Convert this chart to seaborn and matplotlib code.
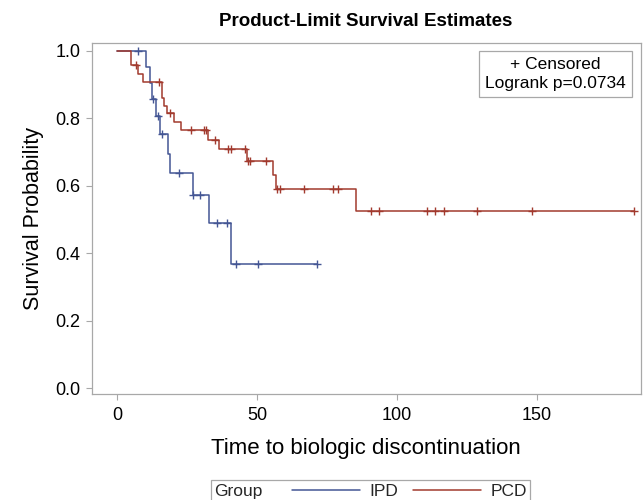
import numpy as np
import pandas as pd
import matplotlib
matplotlib.use("Agg")
import matplotlib.pyplot as plt
import seaborn as sns
from matplotlib.lines import Line2D
from matplotlib.offsetbox import DrawingArea

# ---------------- data ----------------
groups = ["IPD", "PCD"]

ipd_time = [0.0, 10.3, 11.5, 12.4, 13.9, 15.3, 18.2, 18.9, 26.9, 32.8, 40.7, 71.3]
ipd_surv = [1.0, 0.952, 0.905, 0.857, 0.807, 0.753, 0.695, 0.637, 0.573, 0.491, 0.368, 0.368]
ipd_cens_time = [7.3, 12.6, 14.4, 16.1, 22.1, 27.1, 29.6, 35.5, 39.1, 42.4, 50.2, 71.3]
ipd_cens_surv = [1.0, 0.857, 0.807, 0.753, 0.637, 0.573, 0.573, 0.491, 0.491, 0.368, 0.368, 0.368]

pcd_time = [0.0, 4.8, 7.5, 9.0, 16.0, 16.8, 17.9, 20.1, 22.9, 32.3, 36.5, 46.3, 55.7, 56.7, 85.3, 184.8]
pcd_surv = [1.0, 0.959, 0.932, 0.908, 0.860, 0.836, 0.815, 0.788, 0.765, 0.736, 0.708, 0.673, 0.632, 0.591, 0.525, 0.525]
pcd_cens_time = [6.6, 14.7, 18.7, 26.5, 31.0, 31.6, 35.0, 39.7, 40.5, 45.7, 46.6, 47.3, 53.3,
                 57.2, 58.0, 66.6, 77.2, 78.8, 90.6, 93.4, 110.6, 113.5, 116.9, 128.5, 148.2, 184.8]
pcd_cens_surv = [0.959, 0.908, 0.815, 0.765, 0.765, 0.765, 0.736, 0.708, 0.708, 0.708, 0.673, 0.673, 0.673,
                 0.591, 0.591, 0.591, 0.591, 0.591, 0.525, 0.525, 0.525, 0.525, 0.525, 0.525, 0.525, 0.525]

x_ticks = [0, 50, 100, 150]
y_ticks = [0.0, 0.2, 0.4, 0.6, 0.8, 1.0]
title = "Product-Limit Survival Estimates"
x_label = "Time to biologic discontinuation"
y_label = "Survival Probability"
inset_lines = ["+ Censored", "Logrank p=0.0734"]
legend_title = "Group"

# ---------------- style ----------------
sns.set_theme(style="white")
plt.rcParams['font.family'] = ['Liberation Sans', 'DejaVu Sans']
plt.rcParams['axes.linewidth'] = 0.9

blue = "#445694"
red = "#A23A2E"
grey = "#A8A8A8"

W, H = 644, 500
fig = plt.figure(figsize=(W / 100, H / 100), dpi=100)
L, R, T, B = 91.7, 641.0, 43.3, 394.0
ax = fig.add_axes([L / W, 1 - B / H, (R - L) / W, (B - T) / H])

ipd_df = pd.DataFrame({"time": ipd_time, "surv": ipd_surv})
pcd_df = pd.DataFrame({"time": pcd_time, "surv": pcd_surv})

sns.lineplot(data=ipd_df, x="time", y="surv", drawstyle="steps-post", estimator=None,
             sort=False, color=blue, lw=1.1, ax=ax)
sns.lineplot(data=pcd_df, x="time", y="surv", drawstyle="steps-post", estimator=None,
             sort=False, color=red, lw=1.1, ax=ax)
sns.scatterplot(x=ipd_cens_time, y=ipd_cens_surv, marker="+", s=32, color=blue,
                linewidth=1.0, ax=ax, zorder=3)
sns.scatterplot(x=pcd_cens_time, y=pcd_cens_surv, marker="+", s=32, color=red,
                linewidth=1.0, ax=ax, zorder=3)

ax.set_xlim(-9.2, 187.3)
ax.set_ylim(-0.017, 1.022)
ax.set_xticks(x_ticks)
ax.set_xticklabels([str(v) for v in x_ticks])
ax.set_yticks(y_ticks)
ax.set_yticklabels([f"{v:.1f}" for v in y_ticks])
for s in ax.spines.values():
    s.set_color(grey)
    s.set_linewidth(0.9)
ax.tick_params(axis="both", which="major", direction="out", length=4.3, width=0.8,
               color=grey, labelcolor="black", labelsize=13, pad=3.6, left=True, bottom=True)
ax.tick_params(axis="x", pad=5.0)

ax.set_xlabel(x_label, fontsize=16, color="black")
ax.set_ylabel(y_label, fontsize=15.5, color="black")
ax.xaxis.set_label_coords(0.5, -0.125)
ax.yaxis.set_label_coords(-0.087, 0.5)

fig.text(366 / W, 1 - 22 / H, title, ha="center", va="center", fontsize=13.5,
         fontweight="bold", color="black")

# inset box
ax.text((555.5 - L) / (R - L), (B - 74.2) / (B - T), "\n".join(inset_lines),
        transform=ax.transAxes, ha="center", va="center", fontsize=12.5,
        linespacing=1.3, color="black",
        bbox=dict(boxstyle="square,pad=0.35", facecolor="white", edgecolor=grey, linewidth=0.9))

# legend
handles = [Line2D([], [], color=blue, lw=1.1), Line2D([], [], color=red, lw=1.1)]
leg = fig.legend(handles, groups, loc="upper center", bbox_to_anchor=(370.5 / W, 1 - 480 / H),
                 ncol=2, title=legend_title, fontsize=12.5, title_fontsize=12.5,
                 frameon=True, fancybox=False, edgecolor=grey, framealpha=1,
                 handlelength=3.9, handletextpad=0.55, columnspacing=0.85,
                 borderpad=0.2, borderaxespad=0)
leg.get_frame().set_linewidth(0.9)
c = leg.get_children()[0]
ttl = c.get_children()[0]
hpack = c.get_children()[1]
c._children.remove(ttl)
hpack._children.insert(0, DrawingArea(0, 1))
hpack._children.insert(0, ttl)

fig.savefig("out.png", dpi=100)
